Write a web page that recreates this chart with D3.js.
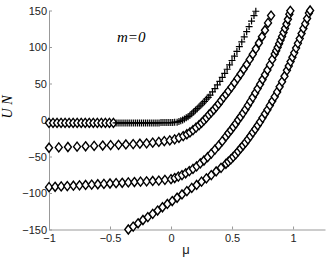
<!DOCTYPE html>
<html>
<head>
<meta charset="utf-8">
<script src="https://cdn.jsdelivr.net/npm/d3@7"></script>
<style>
  body { margin: 0; background: #fff; }
  .axis path, .axis line { stroke: #999; }
  .axis text { font-family: "Liberation Sans", Arial, sans-serif; font-size: 11px; fill: #222; }
</style>
</head>
<body>
<svg id="chart" width="327" height="259"></svg>
<script>
// series: [mu, U N]
var flatDiamonds = [
  [-1.00, -4], [-0.967, -4], [-0.934, -4], [-0.901, -4], [-0.868, -4], [-0.835, -4],
  [-0.802, -4], [-0.769, -4], [-0.736, -4], [-0.703, -4], [-0.67, -4], [-0.637, -4],
  [-0.604, -4], [-0.571, -4], [-0.538, -4], [-0.505, -4], [-0.472, -4]
];

var plusSeries = [
  [-0.45, -4], [-0.434, -4], [-0.418, -4], [-0.402, -4], [-0.386, -4], [-0.37, -4],
  [-0.354, -4], [-0.338, -4], [-0.322, -4], [-0.306, -4], [-0.29, -4], [-0.274, -4],
  [-0.258, -4], [-0.242, -4], [-0.226, -4], [-0.21, -4], [-0.194, -4], [-0.178, -4],
  [-0.162, -4], [-0.146, -4], [-0.13, -4], [-0.114, -4], [-0.098, -4], [-0.082, -3.5],
  [-0.066, -3.5], [-0.05, -3.5], [-0.034, -3.5], [-0.018, -3.5], [-0.002, -3.5],
  [0.014, -3.5], [0.03, -3], [0.05, -3], [0.065, -2], [0.08, -1], [0.095, 0],
  [0.11, 1.5], [0.125, 3], [0.14, 4.5], [0.155, 6.5], [0.17, 8.5], [0.185, 11],
  [0.20, 13.5], [0.215, 15.5], [0.23, 18], [0.245, 20.5], [0.26, 23], [0.275, 25.5],
  [0.29, 28.5], [0.305, 31], [0.32, 34], [0.34, 38.5], [0.36, 43], [0.38, 48],
  [0.40, 53], [0.42, 58.5], [0.44, 64], [0.46, 69.5], [0.48, 75.5], [0.50, 81.5],
  [0.52, 87.5], [0.54, 94], [0.56, 100.5], [0.58, 107], [0.60, 114], [0.62, 121],
  [0.64, 128], [0.66, 135.5], [0.68, 143], [0.695, 149]
];

var branch2 = [
  [-1.00, -38], [-0.92, -37.5], [-0.845, -37], [-0.77, -36.5], [-0.70, -36],
  [-0.63, -35.5], [-0.56, -35], [-0.495, -34.5], [-0.43, -34], [-0.37, -33.5],
  [-0.31, -33], [-0.255, -32.5], [-0.20, -32], [-0.15, -31], [-0.10, -30],
  [-0.055, -29], [-0.01, -28], [0.03, -26.5], [0.065, -24.5], [0.10, -22],
  [0.13, -19.5], [0.155, -17], [0.18, -14], [0.205, -10.5], [0.23, -7], [0.25, -4],
  [0.27, -0.5], [0.29, 3], [0.31, 7], [0.33, 10.5], [0.35, 14], [0.37, 18],
  [0.39, 22], [0.41, 26.5], [0.43, 31], [0.45, 35], [0.47, 39.5], [0.495, 45],
  [0.52, 51], [0.545, 57], [0.57, 63], [0.595, 69.5], [0.62, 76], [0.645, 83],
  [0.67, 90], [0.695, 97.5], [0.72, 105.5], [0.745, 114], [0.77, 123], [0.795, 133],
  [0.82, 143]
];

var branch3 = [
  [-1.00, -92], [-0.95, -91.5], [-0.90, -91], [-0.85, -90.5], [-0.80, -90],
  [-0.75, -89.5], [-0.70, -89], [-0.65, -88.5], [-0.60, -88], [-0.55, -87.5],
  [-0.50, -87], [-0.45, -86.5], [-0.40, -86], [-0.35, -85.5], [-0.30, -85],
  [-0.25, -84.5], [-0.20, -84], [-0.15, -83.5], [-0.10, -83], [-0.05, -82],
  [0.00, -81], [0.03, -79.5], [0.06, -77.5], [0.09, -75.5], [0.12, -73],
  [0.15, -70], [0.18, -67], [0.21, -63.5], [0.24, -59.5], [0.27, -55.5],
  [0.30, -51], [0.33, -46], [0.36, -40.5], [0.39, -35], [0.42, -29], [0.45, -22.5],
  [0.47, -18], [0.49, -14], [0.51, -9.5], [0.53, -5], [0.55, 0], [0.57, 4.5],
  [0.59, 9.5], [0.61, 14.5], [0.63, 20], [0.65, 25.5], [0.67, 31], [0.69, 37],
  [0.71, 43], [0.73, 49], [0.75, 55.5], [0.77, 62], [0.79, 68.5], [0.81, 75.5],
  [0.83, 83], [0.85, 90.5], [0.862, 95], [0.874, 99.5], [0.886, 104.5],
  [0.898, 109.5], [0.91, 114.5], [0.922, 120], [0.934, 125.5], [0.946, 131.5],
  [0.958, 138], [0.97, 145], [0.978, 149.5]
];

var branch4 = [
  [-0.35, -150], [-0.31, -146], [-0.27, -141.5], [-0.23, -137], [-0.19, -133],
  [-0.15, -128.5], [-0.11, -124], [-0.07, -119.5], [-0.03, -115], [0.01, -111],
  [0.05, -106.5], [0.09, -102], [0.13, -97.5], [0.17, -93], [0.21, -89],
  [0.25, -84.5], [0.29, -80], [0.33, -75.5], [0.37, -70.5], [0.41, -65.5],
  [0.45, -60], [0.47, -57], [0.49, -54], [0.51, -50.5], [0.53, -47], [0.55, -43],
  [0.57, -39], [0.59, -35], [0.61, -31], [0.63, -26.5], [0.65, -22], [0.67, -17],
  [0.69, -12.5], [0.71, -7.5], [0.73, -2.5], [0.75, 3], [0.77, 8.5], [0.79, 14],
  [0.81, 20], [0.83, 26], [0.85, 32], [0.87, 38.5], [0.89, 45.5], [0.91, 52.5],
  [0.93, 60], [0.95, 68], [0.965, 74], [0.98, 80], [0.995, 86], [1.01, 92],
  [1.025, 98.5], [1.04, 105], [1.055, 111.5], [1.07, 118.5], [1.085, 125.5],
  [1.10, 132], [1.115, 139], [1.13, 146.5], [1.14, 150]
];

var xTicks = [-1, -0.5, 0, 0.5, 1];
var yTicks = [-150, -100, -50, 0, 50, 100, 150];

var svg = d3.select("#chart");

var x = d3.scaleLinear().domain([-1, 1.262]).range([49, 325]),
  y = d3.scaleLinear().domain([-150, 150]).range([229.5, 10.5]);

var fmt = function(d) { return String(d).replace("-", "\u2212"); };

svg.append("g")
  .attr("class", "axis")
  .attr("transform", "translate(0," + y(-150) + ")")
  .call(d3.axisBottom(x).tickValues(xTicks).tickFormat(fmt).tickSizeInner(-3).tickSizeOuter(0).tickPadding(5));

svg.append("g")
  .attr("class", "axis")
  .attr("transform", "translate(" + x(-1) + ",0)")
  .call(d3.axisLeft(y).tickValues(yTicks).tickFormat(fmt).tickSizeInner(-3).tickSizeOuter(0).tickPadding(2));

var diamond = "M0,-4.5L3.5,0L0,4.5L-3.5,0Z";
var plus = "M-3.5,0H3.5M0,-3.5V3.5";

function drawDiamonds(data) {
  svg.append("g").selectAll("path")
    .data(data)
    .enter().append("path")
    .attr("d", diamond)
    .attr("transform", function(d) { return "translate(" + x(d[0]) + "," + y(d[1]) + ")"; })
    .attr("fill", "#fff")
    .attr("stroke", "#000")
    .attr("stroke-width", 1.4);
}

drawDiamonds(branch4);
drawDiamonds(branch3);
drawDiamonds(branch2);
drawDiamonds(flatDiamonds);

svg.append("g").selectAll("path")
  .data(plusSeries)
  .enter().append("path")
  .attr("d", plus)
  .attr("transform", function(d) { return "translate(" + x(d[0]) + "," + y(d[1]) + ")"; })
  .attr("fill", "none")
  .attr("stroke", "#000")
  .attr("stroke-width", 1.2);

svg.append("text")
  .attr("x", 117).attr("y", 42)
  .style("font-family", "'Liberation Serif', 'Times New Roman', serif")
  .style("font-style", "italic")
  .style("font-size", "15px")
  .text("m=0");

svg.append("text")
  .attr("transform", "translate(12,107) rotate(-90)")
  .attr("text-anchor", "middle")
  .style("font-family", "'Liberation Serif', 'Times New Roman', serif")
  .style("font-style", "italic")
  .style("font-size", "14px")
  .text("U N");

svg.append("text")
  .attr("x", 186).attr("y", 254)
  .attr("text-anchor", "middle")
  .style("font-family", "'Liberation Sans', Arial, sans-serif")
  .style("font-size", "13px")
  .style("fill", "#222")
  .text("\u03bc");
</script>
</body>
</html>
